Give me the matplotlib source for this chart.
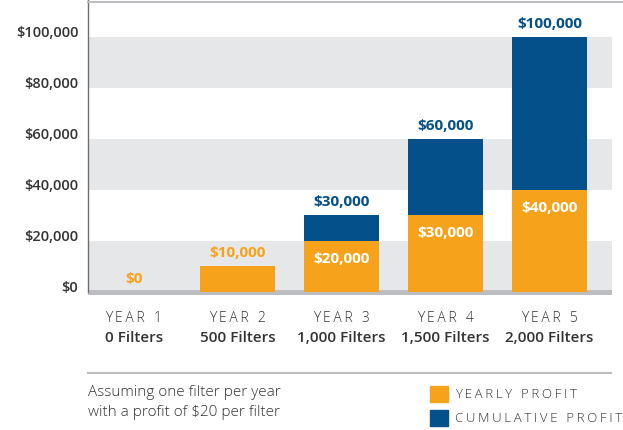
import matplotlib.pyplot as plt
from matplotlib.lines import Line2D
from matplotlib.patches import Rectangle
import matplotlib.transforms as mtransforms

plt.rcParams['font.family'] = ['Open Sans', 'DejaVu Sans']

# Data
years = ["YEAR 1", "YEAR 2", "YEAR 3", "YEAR 4", "YEAR 5"]
filters = ["0 Filters", "500 Filters", "1,000 Filters", "1,500 Filters", "2,000 Filters"]
yearly = [0, 10000, 20000, 30000, 40000]
cumulative = [0, 10000, 30000, 60000, 100000]
yticks = [0, 20000, 40000, 60000, 80000, 100000]
ytick_labels = ["$0", "$20,000", "$40,000", "$60,000", "$80,000", "$100,000"]
bands = [(0, 20000), (40000, 60000), (80000, 100000)]

orange = "#F7A21B"
blue = "#03508A"
band_gray = "#E6E7E8"
base_gray = "#BCBDC0"
dark = "#333333"


def spaced(s, sep="\u200a"):
    # fake letter spacing
    return sep.join(s)


W, H = 623, 430
fig = plt.figure(figsize=(W / 100, H / 100), dpi=100)
ax = fig.add_axes([88 / W, 1 - 295 / H, (612 - 88) / W, 295 / H])

x = list(range(len(years)))
ax.set_xlim(-0.44, 4.6)
ax.set_ylim(-1200, 114500)

for lo, hi in bands:
    ax.axhspan(lo, hi, color=band_gray, lw=0, zorder=0)
ax.axhspan(-1200, 900, color=base_gray, lw=0, zorder=1)

top_part = [c - y for c, y in zip(cumulative, yearly)]
ax.bar(x, yearly, width=0.72, color=orange, zorder=2)
ax.bar(x, top_part, width=0.72, bottom=yearly, color=blue, zorder=2)

up = mtransforms.offset_copy(ax.transData, fig=fig, x=0, y=6, units='dots')
down = mtransforms.offset_copy(ax.transData, fig=fig, x=0, y=-11, units='dots')
for i in x:
    if top_part[i] > 0:
        ax.text(i, cumulative[i], f"${cumulative[i]:,}", color=blue, fontsize=11,
                fontweight='bold', ha='center', va='bottom', transform=up)
        ax.text(i, yearly[i], f"${yearly[i]:,}", color='white', fontsize=11,
                fontweight='bold', ha='center', va='top', transform=down)
    else:
        ax.text(i, yearly[i], f"${yearly[i]:,}", color=orange, fontsize=11,
                fontweight='bold', ha='center', va='bottom', transform=up)

ax.set_yticks(yticks)
ax.set_yticklabels(ytick_labels, fontsize=10.5, fontweight='semibold', color=dark)
ax.tick_params(axis='y', length=0, pad=7)
for lab in ax.get_yticklabels():
    lab.set_transform(lab.get_transform() + mtransforms.ScaledTranslation(0, 5 / 100, fig.dpi_scale_trans))
ax.set_xticks([])

for s in ['top', 'right', 'bottom']:
    ax.spines[s].set_visible(False)
ax.spines['left'].set_color("#6D6E71")
ax.spines['left'].set_linewidth(1)
ax.spines['left'].set_bounds(0, 114500)

# Category labels under the bars
for i in x:
    ax.annotate(spaced(years[i], "\u2009"), (i, 0), xycoords='data', xytext=(0, -27),
                textcoords='offset pixels', ha='center', va='center', fontsize=10,
                color=dark, fontweight='light')
    ax.annotate(filters[i], (i, 0), xycoords='data', xytext=(0, -46), textcoords='offset pixels',
                ha='center', va='center', fontsize=11, color=dark, fontweight='semibold')

# Top rule and separator
fig.add_artist(Line2D([88 / W, 1], [1 - 1.5 / H] * 2, color=base_gray, lw=1.5))
fig.add_artist(Line2D([88 / W, 611 / W], [1 - 373 / H] * 2, color=base_gray, lw=1.5))

# Footnote
fig.text(88 / W, 1 - 392 / H, "Assuming one filter per year", fontsize=11, color=dark,
         va='center', ha='left', fontweight='light')
fig.text(88 / W, 1 - 412 / H, "with a profit of $20 per filter", fontsize=11, color=dark,
         va='center', ha='left', fontweight='light')

# Legend
for yy, col, lab in [(394, orange, "YEARLY PROFIT"), (418, blue, "CUMULATIVE PROFIT")]:
    fig.add_artist(Rectangle((430 / W, 1 - (yy + 8) / H), 18 / W, 16 / H, color=col,
                             transform=fig.transFigure))
    fig.text(455 / W, 1 - yy / H, spaced(lab, "\u2009"), fontsize=9.5, color=dark,
             va='center', ha='left', fontweight='light')

fig.savefig("out.png", dpi=100)
